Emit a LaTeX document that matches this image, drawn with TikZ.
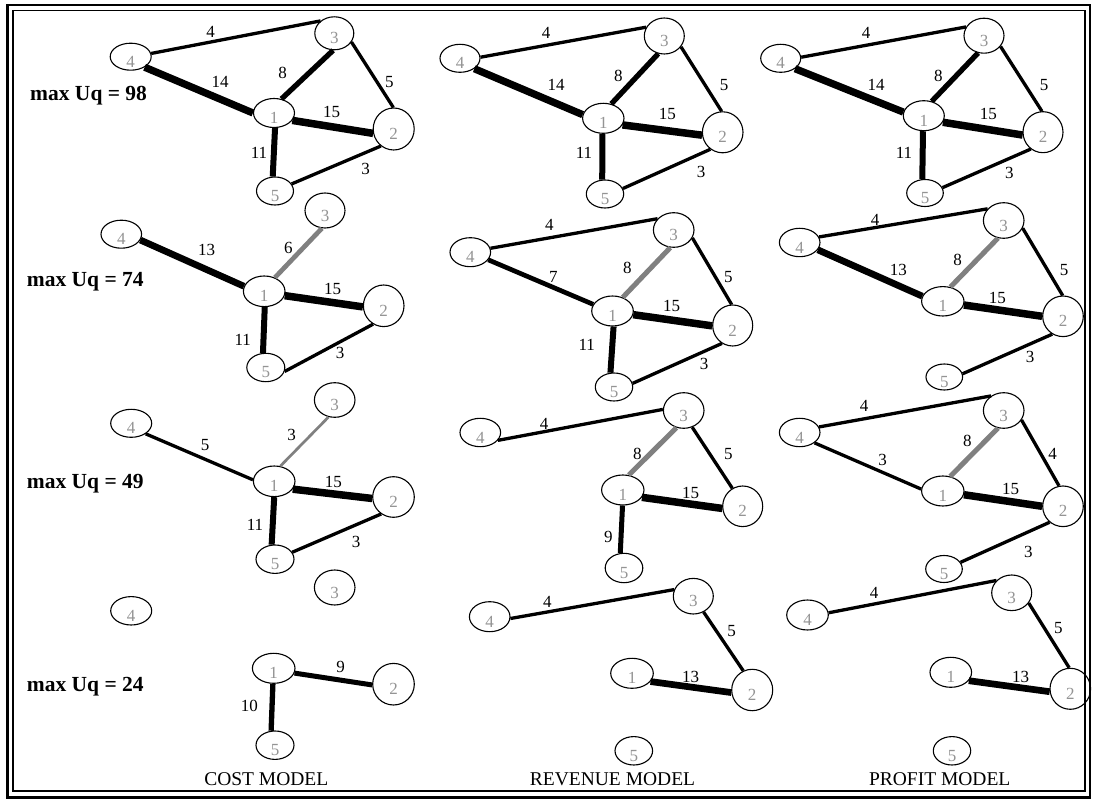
\documentclass[tikz,border=0pt]{standalone}
\usepackage{fontspec}
\setmainfont{Liberation Serif}
\usetikzlibrary{shapes.geometric}
\definecolor{numgrey}{gray}{0.58}
\definecolor{edgegrey}{gray}{0.5}
\tikzset{
  vx/.style={ellipse,draw=black,line width=1.1pt,inner sep=0pt},
  vl/.style={inner sep=0pt,text=numgrey,font=\fontsize{17}{17}\selectfont},
  el/.style={inner sep=0pt,font=\fontsize{17}{17}\selectfont},
  hd/.style={inner sep=0pt,anchor=base west,font=\bfseries\fontsize{21.5}{21.5}\selectfont},
  ft/.style={inner sep=0pt,anchor=base,font=\fontsize{19.5}{19.5}\selectfont},
  lw/.style={line width=#1pt,draw=black},
  gw/.style={line width=#1pt,draw=edgegrey},
}
% an elliptic vertex: name, x, y, width, height, number
\newcommand\netnode[6]{%
  \node[vx,minimum width=#4pt,minimum height=#5pt] (#1) at (#2,#3) {};
  \node[vl] at ([yshift=-5pt]#1.center) {#6};}
\begin{document}
\begin{tikzpicture}[x=1pt,y=-1pt]
\useasboundingbox (0,0) rectangle (1093,799);
\fill[white] (0,0) rectangle (1093,799);
% double frame
\draw[line width=2.6pt] (7.5,5) rectangle (1090,797.5);
\draw[line width=1.6pt] (13,10.5) rectangle (1085,791);

% ---------- max Uq = 98 ----------
\node[hd] at (30,101) {max Uq = 98};
% cost
\netnode{a4}{130.7}{56.7}{41}{27}{4}
\netnode{a3}{334.3}{33.3}{39}{33}{3}
\netnode{a1}{274}{113}{41}{29}{1}
\netnode{a2}{393.7}{129}{41}{42}{2}
\netnode{a5}{275}{191}{37}{28}{5}
\draw[lw=3.3] (a4.9) -- (a3.138);
\draw[lw=7.3] (a4.-37) -- (a1.180);
\draw[lw=5.3] (a3.-94) -- (a1.62);
\draw[lw=3.3] (a3.-27) -- (a2.91);
\draw[lw=7.5] (a1.-22) -- (a2.192);
\draw[lw=6] (a1.-86) -- (a5.99);
\draw[lw=3.3] (a5.23) -- (a2.233);
\node[el] at (210.7,31.7) {4};
\node[el] at (220,81.7) {14};
\node[el] at (282.7,73.3) {8};
\node[el] at (389.3,81.7) {5};
\node[el] at (331.7,111.7) {15};
\node[el] at (259,152.7) {11};
\node[el] at (365.7,169.3) {3};
% revenue
\netnode{b4}{460}{58.3}{40}{28}{4}
\netnode{b3}{664.3}{36}{40}{36}{3}
\netnode{b1}{603.3}{118.3}{41.4}{30}{1}
\netnode{b2}{722.7}{132.3}{40.6}{41}{2}
\netnode{b5}{605}{194}{37.4}{28}{5}
\draw[lw=3.3] (b4.3) -- (b3.154);
\draw[lw=7.3] (b4.-36) -- (b1.170);
\draw[lw=5.3] (b3.-109) -- (b1.61);
\draw[lw=3.3] (b3.-33) -- (b2.93);
\draw[lw=7.5] (b1.-19) -- (b2.188);
\draw[lw=6] (b1.-93) -- (b5.101);
\draw[lw=3.3] (b5.17) -- (b2.234);
\node[el] at (546,33.3) {4};
\node[el] at (556,85) {14};
\node[el] at (618.3,76) {8};
\node[el] at (724,85) {5};
\node[el] at (667.3,114.3) {15};
\node[el] at (584,152.7) {11};
\node[el] at (701,171.7) {3};
% profit
\netnode{c4}{780.7}{58.3}{40}{28}{4}
\netnode{c3}{984}{35.7}{40}{35}{3}
\netnode{c1}{923.8}{115.7}{41}{30}{1}
\netnode{c2}{1043}{132.2}{40}{41}{2}
\netnode{c5}{925}{193}{36.6}{27}{5}
\draw[lw=3.3] (c4.3) -- (c3.154);
\draw[lw=7.3] (c4.-36) -- (c1.170);
\draw[lw=5.3] (c3.-109) -- (c1.61);
\draw[lw=3.3] (c3.-33) -- (c2.93);
\draw[lw=7.5] (c1.-19) -- (c2.188);
\draw[lw=6] (c1.-93) -- (c5.101);
\draw[lw=3.3] (c5.17) -- (c2.234);
\node[el] at (866,33.3) {4};
\node[el] at (876,85) {14};
\node[el] at (938.3,76) {8};
\node[el] at (1044,85) {5};
\node[el] at (988.3,114.3) {15};
\node[el] at (904,152.7) {11};
\node[el] at (1009.3,172.7) {3};

% ---------- max Uq = 74 ----------
\node[hd] at (26.7,286.7) {max Uq = 74};
% cost
\netnode{d4}{121.3}{234.2}{40.6}{28}{4}
\netnode{d3}{325}{210.5}{40}{35}{3}
\netnode{d1}{264.2}{291.3}{41.6}{30.6}{1}
\netnode{d2}{383.7}{305.8}{40.6}{41.6}{2}
\netnode{d5}{265.8}{367.5}{38}{28.4}{5}
\draw[lw=6.7] (d4.-17) -- (d1.166);
\draw[gw=4.7] (d1.52) -- (d3.-100);
\draw[lw=7.5] (d1.-12) -- (d2.183);
\draw[lw=6] (d1.-88) -- (d5.101);
\draw[lw=3.3] (d5.-12) -- (d2.240);
\node[el] at (206.7,250) {13};
\node[el] at (288.3,247.7) {6};
\node[el] at (332.7,289.3) {15};
\node[el] at (242.7,340) {11};
\node[el] at (340,353.3) {3};
% revenue
\netnode{e4}{470.3}{252.2}{40.6}{29}{4}
\netnode{e3}{673.7}{230}{40.6}{34.6}{3}
\netnode{e1}{612.5}{311}{41.6}{30}{1}
\netnode{e2}{732.7}{325.5}{40}{41}{2}
\netnode{e5}{614}{387}{37.4}{28}{5}
\draw[lw=3.3] (e4.11) -- (e3.145);
\draw[lw=4.7] (e4.-23) -- (e1.161);
\draw[gw=5] (e1.53) -- (e3.-101);
\draw[lw=3.3] (e3.-23) -- (e2.93);
\draw[lw=7.5] (e1.-10) -- (e2.181);
\draw[lw=6] (e1.-86) -- (e5.104);
\draw[lw=3.3] (e5.11) -- (e2.239);
\node[el] at (549.3,225) {4};
\node[el] at (553.3,277.3) {7};
\node[el] at (627.3,267.7) {8};
\node[el] at (728.3,277.3) {5};
\node[el] at (671.7,306) {15};
\node[el] at (586.7,345) {11};
\node[el] at (704,364) {3};
% profit
\netnode{f4}{799.7}{242.5}{40.6}{28.4}{4}
\netnode{f3}{1003.7}{220.5}{40.6}{35.6}{3}
\netnode{f1}{942.8}{301.3}{42.4}{29.4}{1}
\netnode{f2}{1063}{316.3}{40.6}{40.6}{2}
\netnode{f5}{944.3}{377}{36.6}{26}{5}
\draw[lw=3.3] (f4.16) -- (f3.144);
\draw[lw=6.7] (f4.-22) -- (f1.166);
\draw[gw=5] (f1.62) -- (f3.-108);
\draw[lw=3.3] (f3.-22) -- (f2.91);
\draw[lw=7.5] (f1.-10) -- (f2.180);
\draw[lw=3.3] (f5.10) -- (f2.239);
\node[el] at (875,220) {4};
\node[el] at (898.3,270) {13};
\node[el] at (957.7,260) {8};
\node[el] at (1064,270) {5};
\node[el] at (997.3,298.3) {15};
\node[el] at (1030,356.7) {3};

% ---------- max Uq = 49 ----------
\node[hd] at (26.7,488.3) {max Uq = 49};
% cost
\netnode{g4}{131.2}{423.3}{41}{28}{4}
\netnode{g3}{334.7}{400}{40.6}{34.6}{3}
\netnode{g1}{274.2}{481.3}{41.6}{30.6}{1}
\netnode{g2}{393.5}{497}{41.6}{40.6}{2}
\netnode{g5}{275}{559.2}{38}{28.4}{5}
\draw[lw=3.3] (g4.-36) -- (g1.176);
\draw[gw=2.7] (g1.68) -- (g3.-110);
\draw[lw=7.5] (g1.-23) -- (g2.184);
\draw[lw=6] (g1.-90) -- (g5.103);
\draw[lw=3.3] (g5.22) -- (g2.234);
\node[el] at (205,445) {5};
\node[el] at (291.7,435) {3};
\node[el] at (333.3,481.7) {15};
\node[el] at (255,525) {11};
\node[el] at (356,541.7) {3};
% revenue
\netnode{h4}{480.3}{432.5}{40.6}{28.4}{4}
\netnode{h3}{683.7}{410.5}{40.6}{35.6}{3}
\netnode{h1}{622.8}{490}{42.4}{30}{1}
\netnode{h2}{742.7}{506.3}{40}{40.6}{2}
\netnode{h5}{624}{568}{37.6}{29.4}{5}
\draw[lw=3.3] (h4.-24) -- (h3.177);
\draw[gw=5] (h1.68) -- (h3.-113);
\draw[lw=3.3] (h3.-63) -- (h2.120);
\draw[lw=7.5] (h1.-21) -- (h2.186);
\draw[lw=5] (h1.-91) -- (h5.104);
\node[el] at (544,424.3) {4};
\node[el] at (637.3,454) {8};
\node[el] at (728.3,454) {5};
\node[el] at (690.7,493.3) {15};
\node[el] at (608.3,536.7) {9};
% profit
\netnode{i4}{799.7}{432.5}{40.6}{28.4}{4}
\netnode{i3}{1003.7}{410.5}{40.6}{35.6}{3}
\netnode{i1}{942.8}{491}{42.4}{30}{1}
\netnode{i2}{1063}{506.3}{40.6}{40.6}{2}
\netnode{i5}{944}{569}{36.6}{27}{5}
\draw[lw=3.3] (i4.16) -- (i3.131);
\draw[lw=3.3] (i4.-35) -- (i1.175);
\draw[gw=5] (i1.63) -- (i3.-108);
\draw[lw=3.3] (i3.-28) -- (i2.101);
\draw[lw=7.5] (i1.-10) -- (i2.180);
\draw[lw=3.3] (i5.22) -- (i2.230);
\node[el] at (864,406) {4};
\node[el] at (882.7,460) {3};
\node[el] at (967.3,440.7) {8};
\node[el] at (1052.7,454) {4};
\node[el] at (1010.7,489.3) {15};
\node[el] at (1028.3,551.7) {3};

% ---------- max Uq = 24 ----------
\node[hd] at (26.7,691.7) {max Uq = 24};
% cost
\netnode{j3}{334.7}{587.5}{40.6}{35}{3}
\netnode{j4}{131.2}{610.8}{41}{28.4}{4}
\netnode{j1}{273.7}{668.3}{42.6}{30}{1}
\netnode{j2}{393.5}{684.2}{41.6}{41.6}{2}
\netnode{j5}{275}{745.2}{38}{28.4}{5}
\draw[lw=5] (j1.-13) -- (j2.182);
\draw[lw=5.3] (j1.-93) -- (j5.105);
\node[el] at (340.7,666.7) {9};
\node[el] at (249.3,706) {10};
% revenue
\netnode{k4}{489.7}{616.7}{40.6}{30}{4}
\netnode{k3}{693.3}{596.2}{40}{35.6}{3}
\netnode{k1}{632}{673.3}{42.6}{30}{1}
\netnode{k2}{752.2}{690}{41}{41.4}{2}
\netnode{k5}{633.8}{750.8}{37.6}{28.4}{5}
\draw[lw=3.3] (k4.-5) -- (k3.161);
\draw[lw=3.3] (k3.-57) -- (k2.115);
\draw[lw=6.7] (k1.-24) -- (k2.187);
\node[el] at (547.3,601.7) {4};
\node[el] at (731.7,630.7) {5};
\node[el] at (690.7,676.7) {13};
% profit
\netnode{l4}{807.5}{615}{41.6}{30}{4}
\netnode{l3}{1011.7}{592.8}{40}{35.6}{3}
\netnode{l1}{950.8}{672.3}{41.6}{30}{1}
\netnode{l2}{1070.3}{688.8}{40.6}{41}{2}
\netnode{l5}{952}{750.8}{37.4}{28.4}{5}
\draw[lw=3.3] (l4.6) -- (l3.141);
\draw[lw=3.3] (l3.-31) -- (l2.93);
\draw[lw=6.7] (l1.-25) -- (l2.188);
\node[el] at (874,593.3) {4};
\node[el] at (1058.3,628.3) {5};
\node[el] at (1020.7,676.7) {13};

% column captions
\node[ft] at (266.3,785) {COST MODEL};
\node[ft] at (612.5,785) {REVENUE MODEL};
\node[ft] at (939.7,785) {PROFIT MODEL};
\end{tikzpicture}
\end{document}
